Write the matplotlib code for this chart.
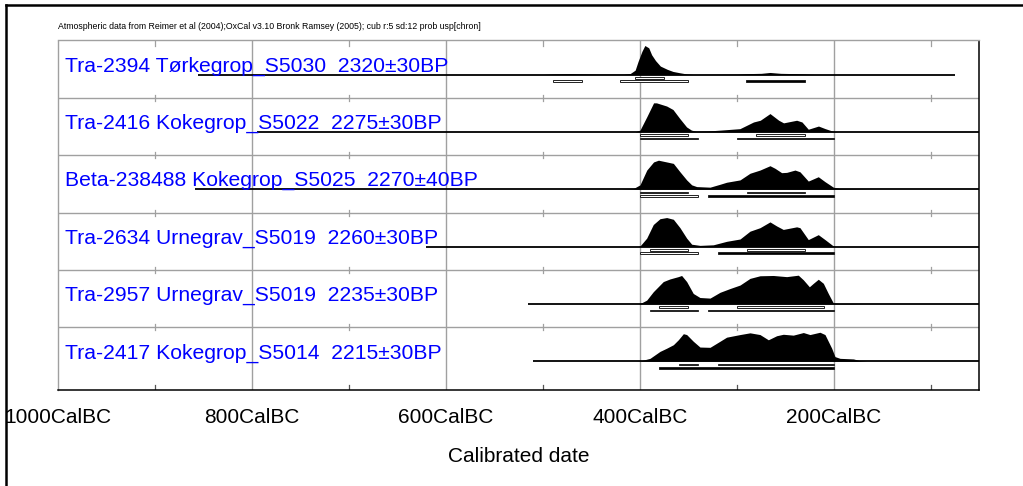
import matplotlib
matplotlib.use('Agg')
import matplotlib.pyplot as plt
from matplotlib.patches import Rectangle
from matplotlib.lines import Line2D
import warnings
warnings.filterwarnings('ignore')

# ---------------- data ----------------
title_text = ("Atmospheric data from Reimer et al (2004);OxCal v3.10 Bronk Ramsey (2005); "
              "cub r:5 sd:12 prob usp[chron]")
row_labels = [
    "Tra-2394 Tørkegrop_S5030  2320±30BP",
    "Tra-2416 Kokegrop_S5022  2275±30BP",
    "Beta-238488 Kokegrop_S5025  2270±40BP",
    "Tra-2634 Urnegrav_S5019  2260±30BP",
    "Tra-2957 Urnegrav_S5019  2235±30BP",
    "Tra-2417 Kokegrop_S5014  2215±30BP",
]
tick_years = [1000, 800, 600, 400, 200]
tick_labels = ["1000CalBC", "800CalBC", "600CalBC", "400CalBC", "200CalBC"]
minor_years = [900, 700, 500, 300, 100]
xlabel = "Calibrated date"

# calibrated probability curves (years BC, relative density)
years_1 = [856, 500, 489, 472, 458, 440, 425, 417, 410, 405, 402, 398, 395, 391, 388, 384, 379,
           372, 366, 359, 352, 345, 300, 290, 275, 266, 255, 240, 232, 220, 75]
dens_1 = [0, 0, 0.02, 0.03, 0.02, 0.01, 0.01, 0.01, 0.035, 0.15, 0.45, 0.80, 1.0, 0.92, 0.68,
          0.48, 0.29, 0.18, 0.105, 0.06, 0.02, 0.0, 0.01, 0.03, 0.04, 0.07, 0.04, 0.03, 0.02, 0, 0]

years_2 = [795, 405, 400, 393, 386, 383, 372.5, 366, 359, 352, 347, 342, 330, 317, 297, 283, 276,
           266, 257, 252, 238.5, 233, 226.5, 216, 209, 201, 195, 50]
dens_2 = [0, 0, 0.06, 0.52, 1.0, 1.0, 0.89, 0.77, 0.46, 0.17, 0.06, 0.02, 0.03, 0.06, 0.11, 0.34,
          0.40, 0.63, 0.40, 0.31, 0.40, 0.34, 0.09, 0.20, 0.11, 0.02, 0, 0]

years_3 = [859, 420, 407, 400, 393, 386, 381, 372.5, 365.6, 358.8, 351.9, 346.7, 341.6, 327.8,
           317.5, 310.7, 296.9, 286.6, 276.3, 266, 260.8, 254, 248.8, 240.2, 235.1, 226.5, 216.2,
           209.3, 200.7, 193.8, 173, 160, 50]
dens_3 = [0, 0.0, 0.02, 0.15, 0.66, 0.94, 1.0, 0.94, 0.89, 0.60, 0.32, 0.15, 0.09, 0.07, 0.17,
          0.24, 0.32, 0.55, 0.66, 0.81, 0.72, 0.57, 0.58, 0.66, 0.60, 0.28, 0.43, 0.26, 0.07, 0.02,
          0.01, 0, 0]

years_4 = [621, 402, 400, 393.1, 386.3, 379.4, 372.5, 365.6, 358.8, 351.9, 346.7, 338.2, 324.4,
           310.7, 296.9, 286.6, 276.3, 266, 259.1, 252.3, 238.5, 235.1, 226.5, 216.2, 209.3, 200.7,
           198, 50]
dens_4 = [0, 0, 0.02, 0.29, 0.76, 0.96, 1.0, 0.94, 0.65, 0.29, 0.08, 0.04, 0.06, 0.18, 0.26, 0.53,
          0.65, 0.85, 0.71, 0.59, 0.68, 0.65, 0.24, 0.41, 0.24, 0.02, 0, 0]

years_5 = [515, 402, 400, 393.1, 386.3, 376, 369.2, 360.6, 357.1, 351.9, 345.1, 338.2, 327.8,
           317.5, 307.2, 296.9, 286.6, 276.3, 262.6, 248.8, 236.8, 231.6, 225.4, 221.3, 216.2,
           211, 205.9, 200.7, 193.8, 180, 170, 50]
dens_5 = [0, 0, 0.01, 0.13, 0.42, 0.77, 0.86, 0.94, 0.98, 0.77, 0.36, 0.22, 0.20, 0.40, 0.53,
          0.65, 0.88, 0.97, 0.98, 0.94, 0.99, 0.83, 0.59, 0.71, 0.85, 0.71, 0.36, 0.03, 0.01,
          0.01, 0, 0]

years_6 = [510, 405, 400, 389.7, 379.4, 372.5, 365.6, 360.5, 355.3, 351.9, 345.1, 338.2, 327.8,
           317.5, 310.7, 296.9, 286.6, 276.3, 267.7, 259.1, 252.3, 242, 231.6, 224.8, 214.5,
           209.3, 202.4, 199, 193.8, 180, 173.2, 166, 50]
dens_6 = [0, 0, 0.01, 0.10, 0.34, 0.45, 0.57, 0.74, 0.95, 0.92, 0.69, 0.49, 0.48, 0.69, 0.83,
          0.92, 0.98, 0.92, 0.74, 0.88, 0.93, 0.90, 0.99, 0.92, 1.0, 0.92, 0.45, 0.16, 0.10, 0.08,
          0.02, 0, 0]

# 68.2% and 95.4% ranges (years BC)
sig1_1 = [(405, 375)]
sig2_1 = [(490, 460), (421, 350), (291, 230)]
sig1_2 = [(400, 350), (280, 230)]
sig2_2 = [(400, 340), (300, 200)]
sig1_3 = [(400, 350), (290, 230)]
sig2_3 = [(400, 340), (330, 200)]
sig1_4 = [(390, 350), (290, 230)]
sig2_4 = [(400, 340), (320, 200)]
sig1_5 = [(380, 350), (300, 210)]
sig2_5 = [(390, 340), (330, 200)]
sig1_6 = [(360, 340), (320, 200)]
sig2_6 = [(380, 200)]
# which 95.4% range of each row is drawn as a solid bar
solid2 = [2, 1, 1, 1, 1, 0]

years_all = [years_1, years_2, years_3, years_4, years_5, years_6]
dens_all = [dens_1, dens_2, dens_3, dens_4, dens_5, dens_6]
sig1_all = [sig1_1, sig1_2, sig1_3, sig1_4, sig1_5, sig1_6]
sig2_all = [sig2_1, sig2_2, sig2_3, sig2_4, sig2_5, sig2_6]

# ---------------- layout ----------------
W, H = 1023, 486
fig = plt.figure(figsize=(W / 100, H / 100), dpi=100)
plt.rcParams['font.family'] = ['Liberation Sans', 'DejaVu Sans']

AX_L, AX_R, AX_T, AX_B = 58, 979, 40.5, 390   # pixel frame
PX_PER_YR = 0.97
ax = fig.add_axes([AX_L / W, 1 - AX_B / H, (AX_R - AX_L) / W, (AX_B - AX_T) / H])
x_left = -1000
x_right = -1000 + (AX_R - AX_L) / PX_PER_YR
ax.set_xlim(x_left, x_right)
ax.set_ylim(AX_B, AX_T)      # vertical layout in pixel units from the top
ax.set_xticks([])
ax.set_yticks([])

GRID = '#a0a0a0'
for s in ['left', 'top']:
    ax.spines[s].set_color(GRID)
    ax.spines[s].set_linewidth(1.0)
for s in ['right', 'bottom']:
    ax.spines[s].set_color('black')
    ax.spines[s].set_linewidth(1.1)

ROW_H = 57.35
BASE_OFF = 34.0
PEAK = 29.0
n = len(row_labels)
seps = [AX_T + k * ROW_H for k in range(n)]

# vertical grid lines at major ticks
for yr in tick_years[1:]:
    ax.axvline(-yr, color=GRID, lw=1.0, zorder=1)
# row separators
for k in range(1, n):
    ax.axhline(seps[k], color=GRID, lw=1.0, zorder=1)
# short tick marks at minor years
for yr in minor_years:
    for k in range(1, n):
        ax.plot([-yr, -yr], [seps[k] - 3, seps[k] + 3], color=GRID, lw=0.9, zorder=1)
    ax.plot([-yr, -yr], [AX_T, AX_T + 5], color=GRID, lw=0.9, zorder=1)
    ax.plot([-yr, -yr], [AX_B - 5, AX_B], color='#555555', lw=0.9, zorder=1)

# distributions
for i in range(n):
    base = seps[i] + BASE_OFF
    xs = [-y for y in years_all[i]]
    tops = [base - d * PEAK for d in dens_all[i]]
    ax.fill_between(xs, [base] * len(xs), tops, color='black', lw=0, zorder=3)
    ax.plot([xs[0], xs[-1]], [base, base], color='black', lw=1.3, zorder=3,
            solid_capstyle='butt')
    # range bars
    for (a, b) in sig1_all[i]:
        ax.add_patch(Rectangle((-a, base + 2.3), a - b, 1.8, facecolor='white',
                               edgecolor='#222222', lw=0.7, zorder=4))
    for j, (a, b) in enumerate(sig2_all[i]):
        fc = 'black' if j == solid2[i] else 'white'
        ax.add_patch(Rectangle((-a, base + 5.7), a - b, 1.8, facecolor=fc,
                               edgecolor='#222222', lw=0.7, zorder=4))
    ax.text(x_left + 7 / PX_PER_YR, base - 3.0, row_labels[i], color='#0000ff',
            fontsize=15.2, ha='left', va='baseline', zorder=5)

# tick labels and axis title
for yr, lab in zip(tick_years, tick_labels):
    ax.text(-yr, 423.3, lab, fontsize=15, ha='center', va='baseline', clip_on=False)
ax.text((x_left + x_right) / 2, 462, xlabel, fontsize=15, ha='center', va='baseline',
        clip_on=False)

# header
fig.text(AX_L / W, 1 - 29 / H, title_text, fontsize=6.3,
         family=['Liberation Sans Narrow', 'Liberation Sans'], ha='left', va='baseline')

# outer frame (left and top edges)
fig.add_artist(Line2D([6.3 / W, 6.3 / W], [0, 1 - 5.3 / H], color='black', lw=1.8,
                      transform=fig.transFigure))
fig.add_artist(Line2D([6.3 / W, 1], [1 - 5.3 / H, 1 - 5.3 / H], color='black', lw=1.8,
                      transform=fig.transFigure, solid_capstyle='projecting'))

fig.savefig('out.png', dpi=100, facecolor='white')
